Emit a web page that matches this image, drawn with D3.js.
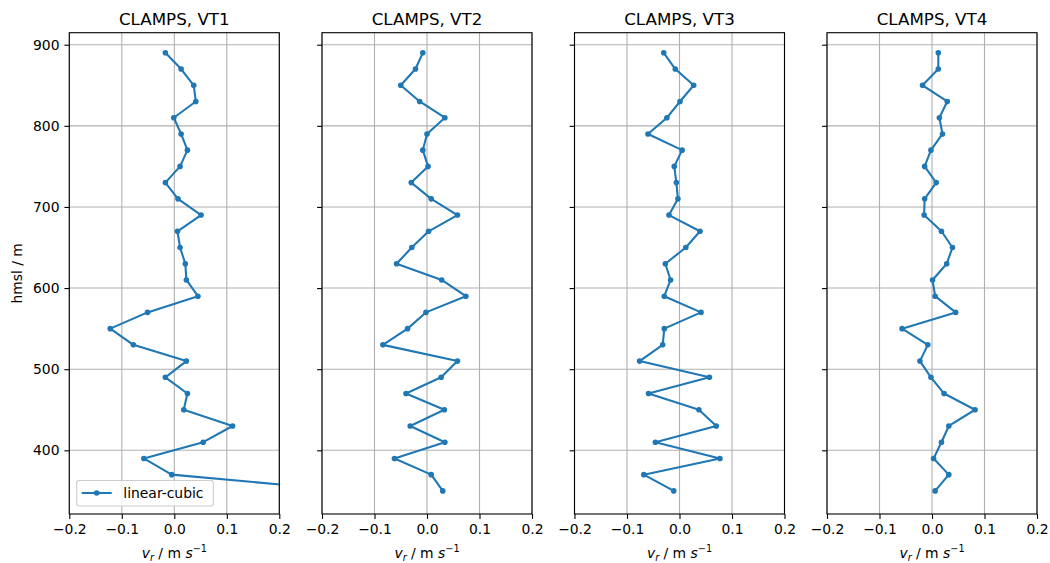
<!DOCTYPE html>
<html><head><meta charset="utf-8">
<script src="https://cdn.jsdelivr.net/npm/d3@7"></script>
<style>body{margin:0;background:#fff}svg{display:block}text{font-family:"DejaVu Sans",sans-serif;fill:#000}</style>
</head><body><svg id="c" width="1050" height="563"></svg>
<script>
const heights = [890,870,850,830,810,790,770,750,730,710,690,670,650,630,610,590,570,550,530,510,490,470,450,430,410,390,370,350];
const titles = ["CLAMPS, VT1","CLAMPS, VT2","CLAMPS, VT3","CLAMPS, VT4"];
const vt1 = [-0.017,0.013,0.037,0.041,-0.001,0.013,0.025,0.011,-0.017,0.007,0.051,0.006,0.011,0.021,0.023,0.045,-0.051,-0.122,-0.078,0.023,-0.017,0.025,0.018,0.111,0.055,-0.058,-0.005,0.337];
const vt2 = [-0.008,-0.022,-0.050,-0.014,0.034,0.000,-0.008,0.002,-0.030,0.008,0.058,0.003,-0.029,-0.058,0.028,0.074,-0.002,-0.037,-0.084,0.058,0.027,-0.040,0.033,-0.032,0.034,-0.062,0.008,0.030];
const vt3 = [-0.030,-0.008,0.027,0.001,-0.024,-0.060,0.005,-0.010,-0.006,-0.003,-0.020,0.039,0.012,-0.027,-0.017,-0.029,0.041,-0.029,-0.032,-0.076,0.057,-0.059,0.037,0.070,-0.046,0.077,-0.068,-0.011];
const vt4 = [0.012,0.012,-0.018,0.029,0.014,0.020,-0.002,-0.014,0.008,-0.014,-0.015,0.018,0.039,0.028,0.001,0.006,0.045,-0.057,-0.008,-0.023,-0.002,0.023,0.082,0.032,0.018,0.003,0.032,0.006];
const series = [vt1,vt2,vt3,vt4];
const xTicks = [-0.2,-0.1,0.0,0.1,0.2];
const yTicks = [400,500,600,700,800,900];
const legendLabel = "linear-cubic";

(function(){
const svg = d3.select("#c");
const lefts = [69.3,322,574.5,827];
const W = 210, T = 32.7, B = 514;
const color = "#1f77b4";
const fmt = v => d3.format(".1f")(v).replace("-","\u2212");
const y = d3.scaleLinear().domain([321.5,914.8]).range([B,T]);

series.forEach((vals,i)=>{
  const L = lefts[i];
  const x = d3.scaleLinear().domain([-0.2,0.2]).range([L,L+W]);
  const g = svg.append("g");
  g.selectAll(".gx").data(xTicks).join("line")
    .attr("x1",d=>x(d)).attr("x2",d=>x(d)).attr("y1",T).attr("y2",B)
    .attr("stroke","#b0b0b0").attr("stroke-width",1.1);
  g.selectAll(".gy").data(yTicks).join("line")
    .attr("y1",d=>y(d)).attr("y2",d=>y(d)).attr("x1",L).attr("x2",L+W)
    .attr("stroke","#b0b0b0").attr("stroke-width",1.1);
  const cid = "clip"+i;
  svg.append("clipPath").attr("id",cid).append("rect")
    .attr("x",L).attr("y",T).attr("width",W).attr("height",B-T);
  const pts = vals.map((v,j)=>[v,heights[j]]);
  const pg = g.append("g").attr("clip-path",`url(#${cid})`);
  pg.append("path").attr("d",d3.line().x(d=>x(d[0])).y(d=>y(d[1]))(pts))
    .attr("fill","none").attr("stroke",color).attr("stroke-width",2.08).attr("stroke-linejoin","round");
  pg.selectAll("circle").data(pts).join("circle")
    .attr("cx",d=>x(d[0])).attr("cy",d=>y(d[1])).attr("r",2.8).attr("fill",color);
  g.append("rect").attr("x",L).attr("y",T).attr("width",W).attr("height",B-T)
    .attr("fill","none").attr("stroke","#000").attr("stroke-width",1.1);
  const xa = g.append("g").attr("transform",`translate(0,${B})`)
    .call(d3.axisBottom(x).tickValues(xTicks).tickFormat(fmt).tickSizeOuter(0).tickSize(4.9).tickPadding(4.9));
  xa.select(".domain").remove();
  xa.selectAll("line").attr("stroke","#000").attr("stroke-width",1.1);
  xa.selectAll("text").attr("font-size","13.9px").attr("font-family","DejaVu Sans").attr("fill","#000");
  const ya = g.append("g").attr("transform",`translate(${L},0)`)
    .call(d3.axisLeft(y).tickValues(yTicks).tickFormat(i===0?d3.format("d"):"").tickSizeOuter(0).tickSize(4.9).tickPadding(4.9));
  ya.select(".domain").remove();
  ya.selectAll("line").attr("stroke","#000").attr("stroke-width",1.1);
  ya.selectAll("text").attr("font-size","13.9px").attr("font-family","DejaVu Sans").attr("fill","#000");
  g.append("text").attr("x",L+W/2).attr("y",24.5).attr("text-anchor","middle")
    .attr("font-size","16.7px").text(titles[i]);
  const xl = g.append("text").attr("x",L+W/2).attr("y",558).attr("text-anchor","middle").attr("font-size","13.9px");
  xl.append("tspan").attr("font-style","italic").text("v");
  xl.append("tspan").attr("font-style","italic").attr("font-size","9.7px").attr("dy",2.5).text("r");
  xl.append("tspan").attr("dy",-2.5).text(" / m ");
  xl.append("tspan").attr("font-style","italic").text("s");
  xl.append("tspan").attr("font-size","9.7px").attr("dy",-6).text("\u22121");
  if(i===0){
    svg.append("text").attr("transform",`translate(21.5,${(T+B)/2}) rotate(-90)`)
      .attr("text-anchor","middle").attr("font-size","13.9px").text("hmsl / m");
    const lg = svg.append("g");
    lg.append("rect").attr("x",76.7).attr("y",480.5).attr("width",136.6).attr("height",25.5).attr("rx",2.5)
      .attr("fill","#fff").attr("fill-opacity",0.8).attr("stroke","#cccccc").attr("stroke-width",1.1);
    lg.append("line").attr("x1",81.7).attr("x2",111.7).attr("y1",493).attr("y2",493)
      .attr("stroke",color).attr("stroke-width",2.08);
    lg.append("circle").attr("cx",96.7).attr("cy",493).attr("r",2.8).attr("fill",color);
    lg.append("text").attr("x",123.3).attr("y",498).attr("font-size","13.9px").text(legendLabel);
  }
});
})();
</script></body></html>
